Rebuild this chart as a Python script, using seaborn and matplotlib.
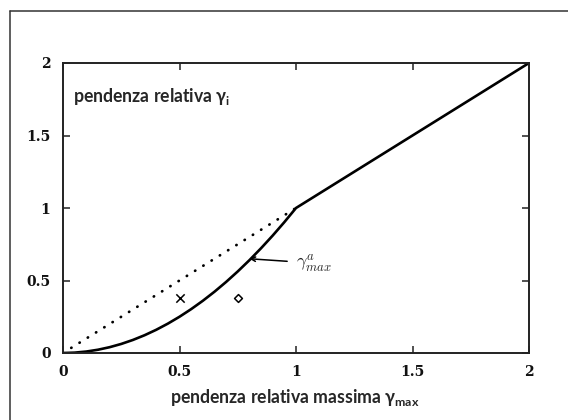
import matplotlib
matplotlib.use("Agg")
import matplotlib.pyplot as plt
from matplotlib.lines import Line2D
import seaborn as sns
import pandas as pd

sns.set_style("ticks")
plt.rcParams["font.family"] = ["Lato", "DejaVu Sans"]

# limiting relative slope gamma_max^a versus maximum relative slope
gamma_max = [0.0, 0.05, 0.1, 0.15, 0.2, 0.25, 0.3, 0.35, 0.4, 0.45, 0.5,
             0.55, 0.6, 0.65, 0.7, 0.75, 0.8, 0.85, 0.9, 0.95, 1.0, 1.5, 2.0]
gamma_a = [0.0, 0.0025, 0.01, 0.0225, 0.04, 0.0625, 0.09, 0.1225, 0.16, 0.2025, 0.25,
           0.3025, 0.36, 0.4225, 0.49, 0.5625, 0.64, 0.7225, 0.81, 0.9025, 1.0, 1.5, 2.0]

# reference diagonal (dotted)
diag_x = [0.0, 1.0]
diag_y = [0.0, 1.0]

# individual observations
obs_x_cross = [0.5]
obs_y_cross = [0.38]
obs_x_diamond = [0.75]
obs_y_diamond = [0.38]

tick_vals = [0, 0.5, 1, 1.5, 2]
tick_labels = ["0", "0.5", "1", "1.5", "2"]

fig = plt.figure(figsize=(5.68, 4.2), dpi=100)
ax = fig.add_axes([63 / 568, 67 / 420, 466 / 568, 290 / 420])

curve = pd.DataFrame({"gmax": gamma_max, "ga": gamma_a})
sns.lineplot(data=curve, x="gmax", y="ga", ax=ax, color="black", lw=1.9,
             estimator=None, sort=False)
sns.lineplot(x=diag_x, y=diag_y, ax=ax, color="black", lw=2.0,
             linestyle=(0, (0.1, 3.4)), dash_capstyle="round", estimator=None)
sns.scatterplot(x=obs_x_cross, y=obs_y_cross, ax=ax, marker="x", s=36,
                color="black", linewidth=1.1)
sns.scatterplot(x=obs_x_diamond, y=obs_y_diamond, ax=ax, marker="D", s=16,
                facecolor="white", edgecolor="black", linewidth=1.1)

ax.set_xlim(0, 2)
ax.set_ylim(0, 2)
ax.set_xticks(tick_vals)
ax.set_yticks(tick_vals)
ax.set_xticklabels(tick_labels)
ax.set_yticklabels(tick_labels)
for lab in ax.get_xticklabels() + ax.get_yticklabels():
    lab.set_family("DejaVu Serif")
    lab.set_fontweight("bold")
    lab.set_fontsize(10)
    lab.set_color("#111111")
ax.tick_params(direction="in", length=5, width=1.1, color="#222222",
               top=True, right=True, pad=9)
for sp in ax.spines.values():
    sp.set_linewidth(1.4)
    sp.set_color("#222222")
ax.set_xlabel("")
ax.set_ylabel("")

ax.annotate(r"$\gamma^{a}_{max}$", xy=(0.8, 0.65), xytext=(1.0, 0.62),
            fontsize=13, math_fontfamily="cm", va="center", ha="left",
            arrowprops=dict(arrowstyle="->", color="black", lw=1.1,
                            mutation_scale=8, shrinkA=4, shrinkB=0))

ax.text(0.021, 0.885, r"pendenza relativa γ$_{\mathregular{i}}$",
        transform=ax.transAxes, fontsize=12.7, fontweight="bold",
        va="center", ha="left")
fig.text(295 / 568, 1 - 397 / 420, r"pendenza relativa massima γ$_{\mathregular{max}}$",
         fontsize=12.7, fontweight="bold", va="center", ha="center")

# frame around the whole figure
fig.add_artist(Line2D([10 / 568, 10 / 568], [0, 1 - 11 / 420],
                      transform=fig.transFigure, color="#333333", lw=1.1))
fig.add_artist(Line2D([10 / 568, 1], [1 - 11 / 420, 1 - 11 / 420],
                      transform=fig.transFigure, color="#333333", lw=1.1))

fig.savefig("out.png", dpi=100)
